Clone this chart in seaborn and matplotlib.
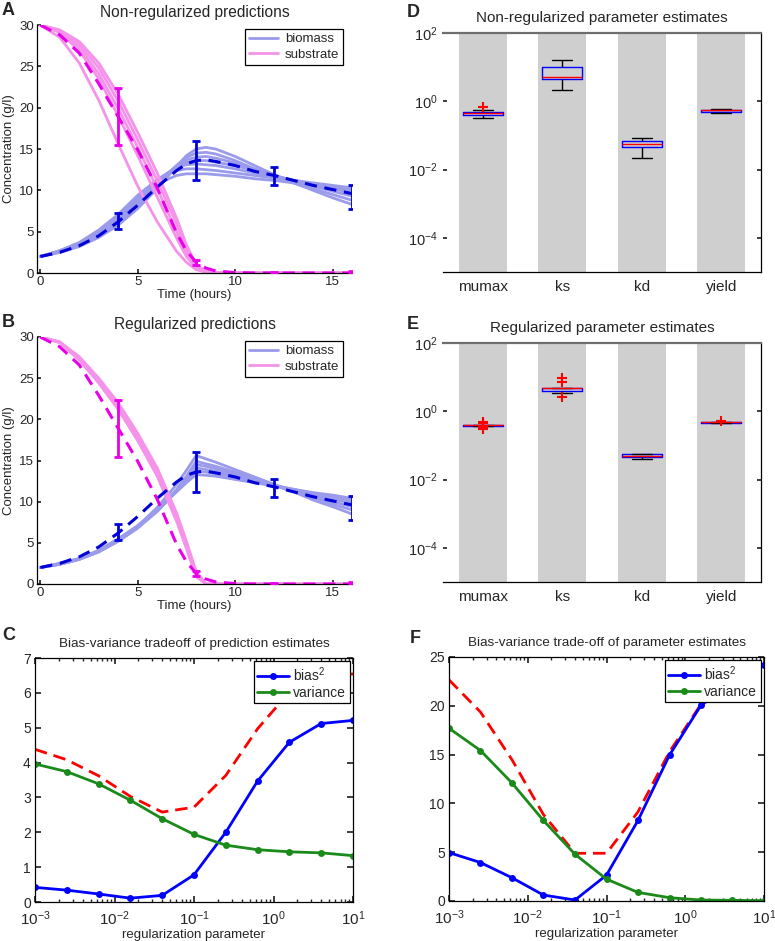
import numpy as np
import pandas as pd
import matplotlib
matplotlib.use("Agg")
import matplotlib.pyplot as plt
import seaborn as sns
from matplotlib.lines import Line2D
from matplotlib.ticker import NullLocator, LogLocator, LogFormatterSciNotation, NullFormatter

# ---------------- data ----------------
T = [0, 1, 2, 3, 4, 5, 6, 7, 7.5, 8, 8.5, 9, 10, 11, 12, 13, 14, 15, 16]

biomass_mean = [2.0, 2.5, 3.3, 4.5, 6.2, 8.2, 10.4, 12.4, 13.2, 13.6, 13.7, 13.5, 13.0, 12.3, 11.8, 11.2, 10.6, 10.1, 9.6]
substrate_mean = [30, 28.8, 26.6, 22.9, 18.9, 14.9, 10.3, 4.8, 2.7, 1.3, 0.6, 0.25, 0.05, 0, 0, 0, 0, 0, 0]

A_biomass_runs = [
    [2.0, 2.5, 3.2, 4.3, 5.8, 7.8, 10.2, 12.9, 14.2, 15.0, 15.2, 15.0, 14.1, 13.0, 11.9, 10.9, 10.0, 9.1, 8.3],
    [2.0, 2.5, 3.3, 4.5, 6.1, 8.2, 10.6, 13.0, 14.0, 14.5, 14.6, 14.4, 13.6, 12.6, 11.8, 10.9, 10.2, 9.5, 8.8],
    [2.0, 2.6, 3.4, 4.7, 6.4, 8.5, 10.9, 13.0, 13.7, 14.0, 14.1, 13.9, 13.3, 12.6, 11.8, 11.1, 10.5, 9.9, 9.3],
    [2.0, 2.6, 3.5, 4.9, 6.7, 8.9, 11.1, 12.9, 13.4, 13.6, 13.6, 13.4, 13.0, 12.4, 11.8, 11.2, 10.7, 10.2, 9.7],
    [2.0, 2.6, 3.6, 5.0, 6.9, 9.2, 11.3, 12.8, 13.1, 13.2, 13.1, 13.0, 12.6, 12.1, 11.7, 11.2, 10.8, 10.4, 10.0],
    [2.0, 2.7, 3.7, 5.2, 7.1, 9.4, 11.3, 12.4, 12.6, 12.6, 12.5, 12.4, 12.1, 11.8, 11.5, 11.2, 10.9, 10.6, 10.3],
    [2.0, 2.7, 3.6, 5.0, 6.8, 9.0, 10.8, 11.8, 12.0, 12.0, 12.0, 11.9, 11.7, 11.4, 11.2, 10.9, 10.7, 10.4, 10.2],
]
A_substrate_runs = [
    [30, 28.5, 25.4, 20.9, 15.6, 10.5, 6.2, 2.6, 1.3, 0.4, 0.1, 0.0, 0, 0, 0, 0, 0, 0, 0],
    [30, 29.1, 26.9, 23.5, 19.0, 14.2, 9.2, 4.2, 2.0, 0.6, 0.1, 0.0, 0, 0, 0, 0, 0, 0, 0],
    [30, 29.2, 27.3, 24.1, 19.9, 15.2, 10.2, 5.0, 2.5, 0.7, 0.15, 0.03, 0, 0, 0, 0, 0, 0, 0],
    [30, 29.3, 27.7, 24.8, 20.8, 16.1, 11.2, 5.9, 3.0, 0.9, 0.2, 0.05, 0, 0, 0, 0, 0, 0, 0],
    [30, 29.4, 28.0, 25.4, 21.6, 17.0, 12.1, 6.6, 3.4, 1.0, 0.2, 0.05, 0, 0, 0, 0, 0, 0, 0],
]
B_biomass_runs = [
    [2.0, 2.4, 3.0, 4.0, 5.3, 7.0, 9.3, 12.1, 13.8, 15.6, 15.2, 14.8, 13.9, 13.0, 12.1, 11.2, 10.2, 9.4, 8.5],
    [2.0, 2.4, 3.0, 3.9, 5.2, 6.8, 8.9, 11.5, 13.1, 14.9, 14.6, 14.3, 13.6, 12.8, 12.0, 11.2, 10.5, 9.7, 9.0],
    [2.0, 2.4, 3.0, 3.9, 5.2, 6.8, 8.8, 11.3, 12.8, 14.5, 14.3, 14.0, 13.4, 12.7, 12.0, 11.3, 10.7, 10.0, 9.4],
    [2.0, 2.4, 3.0, 4.0, 5.3, 6.9, 8.9, 11.3, 12.7, 14.1, 13.9, 13.7, 13.2, 12.6, 12.0, 11.4, 10.9, 10.3, 9.8],
    [2.0, 2.5, 3.1, 4.0, 5.4, 7.0, 9.0, 11.3, 12.5, 13.7, 13.6, 13.4, 13.0, 12.5, 12.0, 11.5, 11.0, 10.6, 10.1],
    [2.0, 2.5, 3.1, 4.1, 5.5, 7.1, 9.1, 11.2, 12.3, 13.3, 13.2, 13.1, 12.7, 12.3, 11.9, 11.5, 11.1, 10.8, 10.4],
]
B_substrate_runs = [
    [30, 29.3, 27.2, 24.4, 21.2, 17.4, 13.1, 7.6, 4.3, 0.9, 0, 0, 0, 0, 0, 0, 0, 0, 0],
    [30, 29.4, 27.4, 24.7, 21.6, 17.8, 13.6, 8.1, 4.8, 1.2, 0, 0, 0, 0, 0, 0, 0, 0, 0],
    [30, 29.4, 27.6, 25.0, 22.0, 18.3, 14.1, 8.6, 5.2, 1.5, 0, 0, 0, 0, 0, 0, 0, 0, 0],
]

obs_time = [4, 8, 12, 16]
obs_biomass = [6.3, 13.6, 11.7, 9.25]
obs_biomass_sd = [1.0, 2.4, 1.1, 1.45]
obs_substrate = [18.9, 1.3, 0.05, 0.1]
obs_substrate_sd = [3.45, 0.3, 0.05, 0.1]

params = ["mumax", "ks", "kd", "yield"]
D_samples = {
    "mumax": [0.33, 0.37, 0.40, 0.43, 0.46, 0.47, 0.48, 0.57, 0.68],
    "ks": [2.1, 3.5, 4.4, 4.9, 5.3, 7.5, 9.8, 12.5, 16.0],
    "kd": [0.022, 0.040, 0.047, 0.053, 0.058, 0.064, 0.069, 0.076, 0.083],
    "yield": [0.44, 0.47, 0.50, 0.52, 0.54, 0.55, 0.57, 0.575, 0.58],
}
E_samples = {
    "mumax": [0.31, 0.34, 0.375, 0.38, 0.385, 0.39, 0.39, 0.392, 0.395, 0.40, 0.405, 0.45, 0.50],
    "ks": [2.6, 3.45, 3.8, 4.0, 4.3, 4.6, 4.8, 4.8, 4.82, 4.85, 4.88, 7.4, 9.3],
    "kd": [0.041, 0.045, 0.047, 0.049, 0.050, 0.053, 0.056, 0.057, 0.057],
    "yield": [0.455, 0.46, 0.465, 0.468, 0.47, 0.472, 0.475, 0.478, 0.51],
}

reg_param = [0.001, 0.00251, 0.00631, 0.0158, 0.0398, 0.1, 0.251, 0.631, 1.58, 3.98, 10.0]
bias_pred = [0.42, 0.34, 0.23, 0.11, 0.19, 0.78, 2.00, 3.47, 4.58, 5.12, 5.21]
var_pred = [3.96, 3.74, 3.39, 2.92, 2.39, 1.94, 1.63, 1.50, 1.44, 1.41, 1.33]
mse_pred = [4.38, 4.08, 3.62, 3.03, 2.58, 2.72, 3.63, 4.97, 6.02, 6.53, 6.54]
bias_par = [4.96, 3.94, 2.38, 0.61, 0.10, 2.65, 8.25, 14.95, 20.04, 22.3, 24.15]
var_par = [17.70, 15.42, 12.09, 8.25, 4.79, 2.24, 0.88, 0.34, 0.10, 0.07, 0.03]
mse_par = [22.66, 19.36, 14.47, 8.86, 4.89, 4.89, 9.13, 15.29, 20.14, 22.37, 24.18]

# ---------------- style ----------------
sns.set_theme(style="white")
plt.rcParams["font.family"] = ["Liberation Sans", "DejaVu Sans"]
plt.rcParams["mathtext.fontset"] = "custom"
plt.rcParams["mathtext.rm"] = "Liberation Sans"
plt.rcParams["mathtext.it"] = "Liberation Sans:italic"
plt.rcParams["axes.edgecolor"] = "black"
plt.rcParams["axes.linewidth"] = 0.9

C_BIO_RUN = "#9b9bec"
C_SUB_RUN = "#f592ea"
C_BIO = "#0000d8"
C_SUB = "#e800e8"

W, H = 775, 941
fig = plt.figure(figsize=(W / 100, H / 100), dpi=100)


def rect(l, t, r, b):
    return [l / W, 1 - b / H, (r - l) / W, (b - t) / H]


axA = fig.add_axes(rect(37, 25, 352, 273))
axB = fig.add_axes(rect(37, 337, 352, 584))
axC = fig.add_axes(rect(35, 658, 353, 902))
axD = fig.add_axes(rect(443, 33, 761, 272))
axE = fig.add_axes(rect(443, 343, 761, 582))
axF = fig.add_axes(rect(449, 657, 764, 901))


def runs_df(runs, species):
    rows = []
    for i, run in enumerate(runs):
        for t, v in zip(T, run):
            rows.append((t, v, f"{species}{i}", species))
    return pd.DataFrame(rows, columns=["time", "conc", "run", "species"])


def prediction_panel(ax, bio_runs, sub_runs, title):
    df = pd.concat([runs_df(bio_runs, "biomass"), runs_df(sub_runs, "substrate")])
    sns.lineplot(data=df[df.species == "biomass"], x="time", y="conc", units="run",
                 estimator=None, color=C_BIO_RUN, lw=2.0, sort=False, legend=False, ax=ax)
    sns.lineplot(data=df[df.species == "substrate"], x="time", y="conc", units="run",
                 estimator=None, color=C_SUB_RUN, lw=2.0, sort=False, legend=False, ax=ax)
    sns.lineplot(x=T, y=biomass_mean, color=C_BIO, lw=2.2, linestyle=(0, (4, 2.5)), ax=ax)
    sns.lineplot(x=T, y=substrate_mean, color=C_SUB, lw=2.2, linestyle=(0, (4, 2.5)), ax=ax)
    ax.errorbar(obs_time, obs_biomass, yerr=obs_biomass_sd, fmt="none", ecolor=C_BIO,
                elinewidth=2, capsize=3.2, capthick=2, zorder=5)
    ax.errorbar(obs_time, obs_substrate, yerr=obs_substrate_sd, fmt="none", ecolor=C_SUB,
                elinewidth=2, capsize=3.2, capthick=2, zorder=5)
    ax.set_xlim(-0.17, 16)
    ax.set_ylim(0, 30)
    ax.set_xticks([0, 5, 10, 15])
    ax.set_yticks([0, 5, 10, 15, 20, 25, 30])
    ax.set_xlabel("Time (hours)", fontsize=9.5, labelpad=1)
    ax.set_ylabel("Concentration (g/l)", fontsize=9.5, labelpad=3)
    ax.set_title(title, fontsize=11.2, pad=6)
    for s in ["top", "right"]:
        ax.spines[s].set_visible(False)
    ax.tick_params(direction="in", length=3, labelsize=9.5, left=True, bottom=True, pad=2)
    handles = [Line2D([], [], color=C_BIO_RUN, lw=2), Line2D([], [], color=C_SUB_RUN, lw=2)]
    leg = ax.legend(handles, ["biomass", "substrate"], loc="upper right", fontsize=9.5,
                    frameon=True, fancybox=False, framealpha=1, edgecolor="black",
                    borderaxespad=0.3, handlelength=2.2, handletextpad=0.5, labelspacing=0.25,
                    borderpad=0.3, bbox_to_anchor=(0.985, 1.0))
    leg.get_frame().set_linewidth(0.9)


prediction_panel(axA, A_biomass_runs, A_substrate_runs, "Non-regularized predictions")
prediction_panel(axB, B_biomass_runs, B_substrate_runs, "Regularized predictions")


def box_panel(ax, samples, title):
    rows = [(p, v) for p in params for v in samples[p]]
    df = pd.DataFrame(rows, columns=["param", "value"])
    for i in range(len(params)):
        ax.axvspan(i - 0.3, i + 0.3, color="#cfcfcf", zorder=0, lw=0)
    sns.boxplot(data=df, x="param", y="value", order=params, width=0.5, ax=ax,
                fill=False, linewidth=1.0, whis=1.5,
                boxprops=dict(color="#0000ff", zorder=3),
                medianprops=dict(color="#ff0000", zorder=4),
                whiskerprops=dict(color="black", zorder=3),
                capprops=dict(color="black", zorder=3),
                flierprops=dict(marker="+", markeredgecolor="#ff0000", markersize=7,
                                markeredgewidth=1.5, zorder=5))
    ax.set_yscale("log")
    ax.set_ylim(1e-5, 1e2)
    ax.set_xlim(-0.5, 3.5)
    ax.set_yticks([1e-4, 1e-2, 1e0, 1e2])
    ax.yaxis.set_major_formatter(LogFormatterSciNotation())
    ax.yaxis.set_minor_locator(NullLocator())
    ax.set_xlabel("")
    ax.set_ylabel("")
    ax.set_title(title, fontsize=11, pad=8)
    ax.tick_params(axis="y", direction="in", length=3, labelsize=10.5, left=True, right=True, pad=4)
    ax.tick_params(axis="x", length=0, labelsize=11, pad=6)
    ax.spines["left"].set_visible(False)
    ax.spines["top"].set_color("#6e6e6e")
    ax.spines["top"].set_linewidth(1.6)


box_panel(axD, D_samples, "Non-regularized parameter estimates")
box_panel(axE, E_samples, "Regularized parameter estimates")


def tradeoff_panel(ax, bias, var, mse, title, ymax, yticks):
    sns.lineplot(x=reg_param, y=mse, color="#ff0000", lw=2.0, linestyle=(0, (4.5, 2.5)), ax=ax)
    sns.lineplot(x=reg_param, y=bias, color="#0000ff", lw=2.0, marker="o", markersize=5,
                 markeredgewidth=0, ax=ax, label="bias$^2$")
    sns.lineplot(x=reg_param, y=var, color="#1a8a1a", lw=2.0, marker="o", markersize=5,
                 markeredgewidth=0, ax=ax, label="variance")
    ax.set_xscale("log")
    ax.set_xlim(1e-3, 1e1)
    ax.set_ylim(0, ymax)
    ax.set_yticks(yticks)
    ax.xaxis.set_major_locator(LogLocator(base=10, numticks=10))
    ax.xaxis.set_minor_locator(LogLocator(base=10, subs=np.arange(2, 10), numticks=20))
    ax.xaxis.set_minor_formatter(NullFormatter())
    ax.set_xlabel("regularization parameter", fontsize=9.5, labelpad=1)
    ax.set_title(title, fontsize=9.7, pad=8)
    ax.tick_params(which="both", direction="in", top=True, right=True, bottom=True, left=True)
    ax.tick_params(which="major", length=4, labelsize=10)
    ax.tick_params(axis="x", which="major", labelsize=11, pad=5)
    ax.tick_params(axis="y", which="major", pad=3)
    ax.tick_params(which="minor", length=2)
    for s in ax.spines.values():
        s.set_visible(True)
        s.set_color("black")
    leg = ax.legend(loc="upper right", fontsize=10, frameon=True, fancybox=False,
                    framealpha=1, edgecolor="black", borderaxespad=0.25, handlelength=2.3,
                    handletextpad=0.3, labelspacing=0.15, borderpad=0.25)
    leg.get_frame().set_linewidth(0.9)


tradeoff_panel(axC, bias_pred, var_pred, mse_pred,
               "Bias-variance tradeoff of prediction estimates", 7, range(0, 8))
tradeoff_panel(axF, bias_par, var_par, mse_par,
               "Bias-variance trade-off of parameter estimates", 25, [0, 5, 10, 15, 20, 25])

# panel letters
for letter, x, y in [("A", 2, 2), ("B", 2, 314), ("C", 2, 627), ("D", 407, 4), ("E", 407, 316), ("F", 410, 630)]:
    fig.text(x / W, 1 - y / H, letter, fontsize=13, fontweight="bold", va="top", ha="left")

fig.savefig("out.png", dpi=100)
